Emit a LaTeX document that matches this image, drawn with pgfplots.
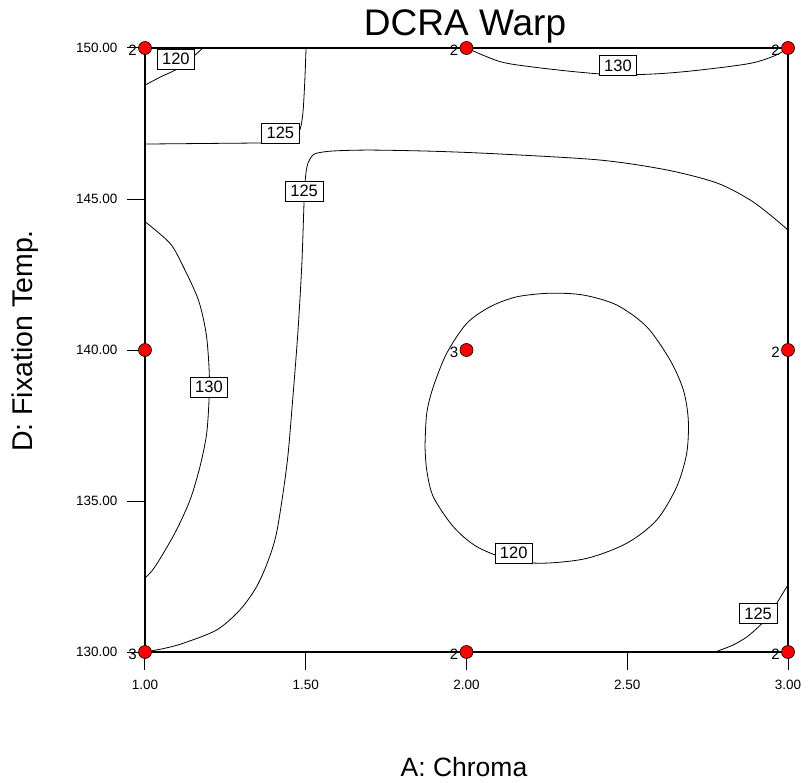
\documentclass[border=0pt]{standalone}
\usepackage{fontspec}
\setmainfont{Liberation Sans}
\usepackage{pgfplots}
\pgfplotsset{compat=1.18}
\begin{document}
\begin{tikzpicture}[
  clab/.style={draw=black, line width=0.6pt, fill=white, font=\fontsize{16.5}{18}\selectfont,
    inner xsep=5pt, inner ysep=3.5pt, text height=12pt, text depth=1pt},
  cl/.style={black, line width=0.8pt, smooth}
]
\begin{axis}[
  at={(0,0)}, anchor=south west,
  scale only axis, width=643pt, height=604pt,
  xmin=1, xmax=3, ymin=130, ymax=150,
  xtick={1,1.5,2,2.5,3}, ytick={130,135,140,145,150},
  xtick pos=lower, ytick pos=left,
  tick align=outside,
  major tick length=18pt,
  tick style={black, line width=1pt},
  axis line style={black, line width=1.3pt},
  /pgf/number format/fixed, /pgf/number format/fixed zerofill,
  /pgf/number format/precision=2, /pgf/number format/assume math mode=true,
  ticklabel style={font=\fontsize{13.5}{16}\selectfont},
  xticklabel style={yshift=-7pt},
  yticklabel style={xshift=-6pt},
  title={DCRA Warp},
  title style={font=\fontsize{37}{40}\selectfont, at={(axis description cs:0.4977,1)}, anchor=base, yshift=6pt, text depth=0pt, inner sep=0pt},
  xlabel={A: Chroma},
  xlabel style={font=\fontsize{26.5}{30}\selectfont, at={(axis description cs:0.4961,-0.2053)}, anchor=base},
  ylabel={D: Fixation Temp.},
  ylabel style={font=\fontsize{28.5}{30}\selectfont, at={(axis description cs:-0.1742,0.515)}, anchor=base},
  clip mode=individual,
]
% 120 top-left
\addplot[cl] coordinates {(1.0,148.77) (1.05,149.05) (1.10,149.30) (1.14,149.62) (1.18,150.0)};
% 125 top-left
\addplot[cl] coordinates {(1.0,146.82) (1.2,146.84) (1.38,146.86) (1.44,146.90) (1.47,147.05) (1.48,147.25) (1.486,147.45) (1.492,147.95) (1.497,148.9) (1.501,150.0)};
% 130 top
\addplot[cl] coordinates {(2.0,150.0) (2.104,149.55) (2.207,149.37) (2.35,149.2) (2.468,149.11) (2.6,149.15) (2.726,149.27) (2.882,149.49) (2.96,149.75) (3.0,150.0)};
% 130 left
\addplot[cl] coordinates {(1.0,144.25) (1.078,143.53) (1.119,142.76) (1.166,141.66) (1.190,140.56) (1.199,139.45) (1.200,138.58) (1.192,137.25) (1.171,136.14) (1.140,135.03) (1.093,133.94) (1.031,132.82) (1.0,132.45)};
% 125 main
\addplot[cl] coordinates {(1.0,130.0) (1.06,130.12) (1.119,130.29) (1.223,130.73) (1.295,131.39) (1.347,132.16) (1.384,133.05) (1.411,134.04) (1.442,136.26) (1.460,138.44) (1.476,140.66) (1.488,142.88) (1.495,144.97) (1.500,145.8) (1.507,146.19) (1.520,146.43) (1.535,146.52) (1.585,146.59) (1.700,146.62) (1.9,146.58) (2.104,146.49) (2.415,146.29) (2.624,145.96) (2.779,145.53) (2.882,144.97) (2.953,144.40) (3.0,143.97)};
% 125 bottom-right
\addplot[cl] coordinates {(2.773,130.0) (2.829,130.23) (2.872,130.50) (2.91,130.85) (2.95,131.3) (2.966,131.63) (3.0,132.22)};
% 120 closed
\addplot[cl] coordinates {(1.8709,136.80) (1.8762,137.90) (1.8967,138.78) (1.9384,139.89) (2.0006,140.88) (2.0731,141.43) (2.1561,141.76) (2.2597,141.88) (2.3633,141.82) (2.4672,141.49) (2.5605,140.77) (2.6330,139.67) (2.6744,138.68) (2.6899,137.68) (2.6849,136.58) (2.6538,135.47) (2.5916,134.37) (2.4983,133.60) (2.3739,133.10) (2.2389,132.94) (2.1353,133.05) (2.0317,133.49) (1.9590,134.15) (1.8967,135.14) (1.8762,136.03) (1.8709,136.80)};
% contour labels
\node[clab] at (axis cs:1.096,149.62) {120};
\node[clab] at (axis cs:1.421,147.19) {125};
\node[clab] at (axis cs:2.471,149.42) {130};
\node[clab] at (axis cs:1.199,138.77) {130};
\node[clab] at (axis cs:1.495,145.26) {125};
\node[clab] at (axis cs:2.907,131.27) {125};
\node[clab] at (axis cs:2.147,133.27) {120};
% design points
\addplot[only marks, mark=*, mark size=6.5pt, mark options={fill=red, draw=black, line width=0.6pt},
  point meta=explicit symbolic, nodes near coords,
  every node near coord/.append style={anchor=east, xshift=-8pt, yshift=-2pt, inner sep=0pt, font=\fontsize{15}{17}\selectfont, text=black}]
  table[meta=label] {
x y label
1 150 2
2 150 2
3 150 2
1 140 {}
2 140 3
3 140 2
1 130 3
2 130 2
3 130 2
};
\end{axis}
\pgfresetboundingbox
\useasboundingbox (-145pt,-130pt) rectangle (663pt,652pt);
\end{tikzpicture}
\end{document}
